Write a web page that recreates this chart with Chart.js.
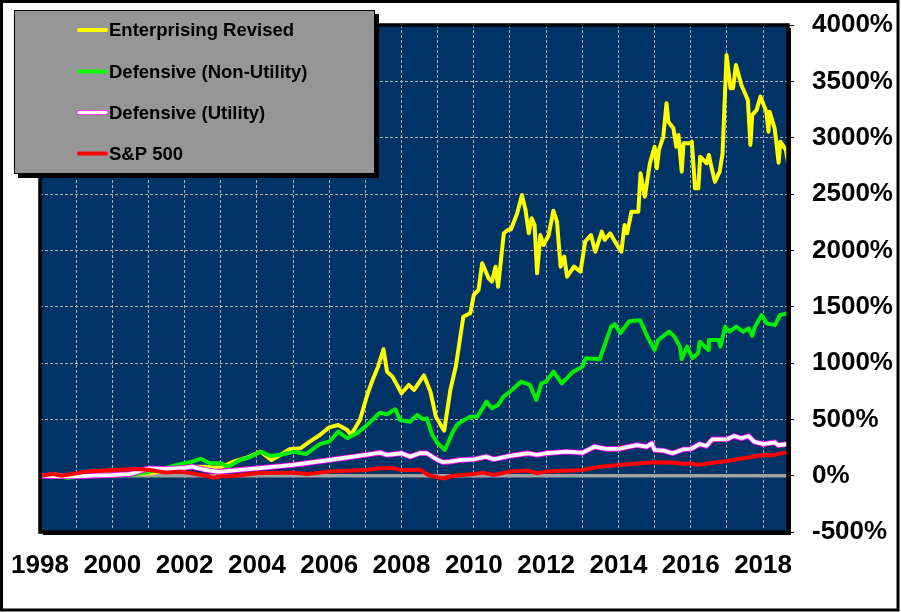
<!DOCTYPE html>
<html>
<head>
<meta charset="utf-8">
<script src="https://cdn.jsdelivr.net/npm/chart.js@4/dist/chart.umd.min.js"></script>
<style>
html,body{margin:0;padding:0;background:#fff;}
canvas{display:block;}
</style>
</head>
<body>
<canvas id="c" width="901" height="612"></canvas>
<script>
// ---- Data (cumulative return, %) ----
const seriesLabels = ['Enterprising Revised', 'Defensive (Non-Utility)', 'Defensive (Utility)', 'S&P 500'];

const enterprisingX = [1998.0,1998.4,1998.7,1999.0,1999.5,2000.0,2000.5,2001.0,2001.4,2001.8,2002.2,2002.57,2002.8,2003.0,2003.35,2003.8,2004.1,2004.4,2004.65,2004.9,2005.2,2005.46,2005.74,2006.0,2006.25,2006.5,2006.6,2006.85,2007.05,2007.2,2007.35,2007.5,2007.6,2007.75,2008.0,2008.2,2008.35,2008.5,2008.62,2008.8,2008.95,2009.1,2009.18,2009.35,2009.5,2009.71,2009.9,2010.0,2010.13,2010.23,2010.41,2010.5,2010.6,2010.67,2010.83,2010.94,2011.03,2011.2,2011.33,2011.43,2011.52,2011.6,2011.68,2011.75,2011.84,2011.93,2012.07,2012.2,2012.3,2012.4,2012.5,2012.58,2012.77,2012.95,2013.08,2013.24,2013.36,2013.54,2013.62,2013.77,2013.9,2014.08,2014.17,2014.24,2014.36,2014.55,2014.61,2014.73,2014.87,2015.0,2015.06,2015.12,2015.24,2015.33,2015.38,2015.52,2015.6,2015.66,2015.75,2015.8,2015.98,2016.03,2016.12,2016.21,2016.26,2016.44,2016.5,2016.58,2016.67,2016.8,2016.88,2016.99,2017.1,2017.17,2017.25,2017.4,2017.58,2017.65,2017.7,2017.82,2017.93,2018.09,2018.15,2018.18,2018.32,2018.36,2018.43,2018.48,2018.63,2018.69];
const enterprisingY = [0,12,-5,0,5,10,15,20,40,60,80,80,70,75,124,169,213,139,184,234,243,302,361,429,450,405,361,494,716,849,967,1122,923,879,731,805,761,834,890,745,524,440,400,761,967,1411,1441,1604,1648,1885,1752,1722,1855,1677,2151,2181,2187,2329,2491,2358,2151,2284,2225,1796,2136,2047,2136,2352,2254,1855,1944,1766,1855,1811,2077,2136,1988,2166,2092,2151,2080,1988,2225,2151,2343,2343,2684,2476,2773,2920,2728,2891,3008,3305,3142,3083,2920,3024,2698,2950,2950,2964,2550,2550,2831,2773,2846,2728,2609,2698,2861,3734,3438,3438,3644,3467,3334,2935,3201,3245,3364,3231,3053,3231,3083,2979,2778,2964,2891,2787];

const defNonUtilX = [1998.0,1998.4,1998.75,1999.0,1999.3,2000.0,2000.6,2001.04,2001.4,2001.78,2002.2,2002.45,2002.7,2003.0,2003.2,2003.54,2003.8,2004.1,2004.37,2004.74,2005.0,2005.37,2005.74,2006.0,2006.25,2006.5,2006.76,2007.0,2007.4,2007.6,2007.83,2007.96,2008.24,2008.43,2008.6,2008.7,2008.85,2009.0,2009.2,2009.4,2009.53,2009.65,2009.9,2010.1,2010.35,2010.5,2010.67,2010.82,2011.0,2011.3,2011.55,2011.73,2011.87,2012.0,2012.2,2012.43,2012.75,2013.0,2013.1,2013.48,2013.8,2013.9,2014.05,2014.3,2014.6,2014.8,2015.0,2015.1,2015.4,2015.55,2015.7,2015.75,2015.9,2016.05,2016.2,2016.25,2016.48,2016.5,2016.78,2016.82,2016.95,2017.07,2017.26,2017.45,2017.6,2017.7,2017.78,2017.96,2018.1,2018.33,2018.47,2018.69];
const defNonUtilY = [0,5,-20,-10,5,15,10,36,60,95,124,150,110,110,80,139,163,213,175,190,213,193,281,302,391,332,376,435,559,545,589,494,479,539,500,509,361,287,228,376,450,479,524,524,657,598,627,701,745,834,805,672,820,834,923,820,923,967,1042,1033,1323,1346,1264,1370,1380,1234,1116,1204,1278,1234,1145,1033,1145,1042,1086,1189,1116,1204,1204,1145,1323,1278,1323,1278,1308,1240,1323,1426,1352,1337,1426,1441];

const defUtilX = [1998.0,1998.5,1999.0,1999.5,2000.0,2000.5,2000.9,2001.04,2001.5,2002.0,2002.2,2002.57,2002.9,2003.0,2004.0,2005.0,2006.0,2007.0,2007.4,2007.6,2008.0,2008.24,2008.5,2008.7,2009.0,2009.15,2009.34,2009.6,2010.0,2010.34,2010.54,2011.0,2011.5,2011.75,2012.0,2012.57,2013.0,2013.34,2013.66,2014.0,2014.5,2014.78,2014.92,2015.0,2015.25,2015.5,2015.8,2016.0,2016.25,2016.43,2016.6,2017.0,2017.2,2017.4,2017.6,2017.75,2018.0,2018.33,2018.42,2018.69];
const defUtilY = [0,-5,-5,0,5,15,55,65,60,70,80,51,36,36,65,95,139,184,204,184,199,169,199,199,139,120,124,139,145,169,145,175,199,184,199,213,204,257,237,237,272,257,287,228,222,199,234,237,281,263,323,323,352,332,352,302,281,296,270,281];

const sp500X = [1998.0,1998.37,1998.6,1999.3,2000.03,2000.67,2001.04,2001.5,2001.9,2002.2,2002.6,2002.8,2003.0,2003.35,2004.0,2005.0,2005.4,2006.0,2007.0,2007.4,2007.8,2008.0,2008.35,2008.5,2008.75,2009.0,2009.15,2009.4,2009.6,2010.0,2010.26,2010.54,2011.0,2011.5,2011.75,2012.0,2013.0,2013.5,2014.0,2015.0,2015.6,2015.8,2016.0,2016.15,2017.0,2018.0,2018.2,2018.69];
const sp500Y = [0,15,0,36,50,60,50,27,36,21,0,-20,-5,-3,21,27,15,36,50,65,65,50,50,55,6,-15,-25,-3,3,15,27,6,36,45,21,36,50,80,95,119,115,104,110,95,130,184,178,208];

const yTicks = [-500,0,500,1000,1500,2000,2500,3000,3500,4000];
const xLabelYears = [1998,2000,2002,2004,2006,2008,2010,2012,2014,2016,2018];

function pts(xs, ys){ return xs.map((x,i)=>({x:x, y:ys[i]})); }

const FONT = '"Liberation Sans", Arial, sans-serif';

const decor = {
  id: 'decor',
  beforeDraw(chart){
    const {ctx, chartArea:a} = chart;
    ctx.save();
    ctx.fillStyle = '#ffffff';
    ctx.fillRect(0,0,chart.width,chart.height);
    ctx.fillStyle = '#000';
    ctx.fillRect(a.left+3, a.top+3, a.right-a.left, a.bottom-a.top);
    ctx.fillStyle = '#003366';
    ctx.fillRect(a.left, a.top, a.right-a.left, a.bottom-a.top);
    ctx.restore();
  },
  beforeDatasetsDraw(chart){
    const {ctx, chartArea:a, scales} = chart;
    const y0 = scales.y.getPixelForValue(0);
    ctx.save();
    ctx.strokeStyle = '#a0a0a0';
    ctx.lineWidth = 3.5;
    ctx.beginPath(); ctx.moveTo(a.left, y0); ctx.lineTo(a.right, y0); ctx.stroke();
    ctx.restore();
  },
  afterDatasetsDraw(chart){
    const {ctx, chartArea:a} = chart;
    ctx.save();
    ctx.strokeStyle = '#000';
    ctx.lineWidth = 3.5;
    ctx.strokeRect(a.left, a.top, a.right-a.left, a.bottom-a.top);
    // legend box
    ctx.fillStyle = '#000';
    ctx.fillRect(18, 14, 361, 164);
    ctx.fillStyle = '#969696';
    ctx.fillRect(14, 10, 361, 164);
    ctx.lineWidth = 1;
    ctx.strokeRect(14.5, 10.5, 360, 163);
    const rows = [30, 71.5, 112.5, 153.5];
    const cols = ['#ffff00', '#00ff00', '#ffffff', '#ff0000'];
    ctx.lineCap = 'round';
    rows.forEach((y,i)=>{
      if (i === 2){
        ctx.strokeStyle = '#ff00ff'; ctx.lineWidth = 5;
        ctx.beginPath(); ctx.moveTo(79, y); ctx.lineTo(106, y); ctx.stroke();
        ctx.strokeStyle = '#ffffff'; ctx.lineWidth = 3.5;
      } else {
        ctx.strokeStyle = cols[i]; ctx.lineWidth = 4;
      }
      ctx.beginPath(); ctx.moveTo(79, y); ctx.lineTo(106, y); ctx.stroke();
      ctx.fillStyle = '#000';
      ctx.font = 'bold 18.5px ' + FONT;
      ctx.textBaseline = 'middle';
      ctx.textAlign = 'left';
      ctx.fillText(seriesLabels[i], 109, y+1);
    });
    // outer frame
    ctx.strokeStyle = '#000';
    ctx.lineWidth = 3;
    ctx.strokeRect(1.5, 1.5, 896.5, 608.5);
    ctx.restore();
  }
};

const lineBase = {pointRadius:0, tension:0, fill:false, borderJoinStyle:'round', borderCapStyle:'round'};

new Chart(document.getElementById('c'), {
  type: 'line',
  data: {
    datasets: [
      Object.assign({label: seriesLabels[0], data: pts(enterprisingX, enterprisingY), borderColor:'#ffff00', borderWidth:4, order:5}, lineBase),
      Object.assign({label: seriesLabels[1], data: pts(defNonUtilX, defNonUtilY), borderColor:'#00ee00', borderWidth:4, order:4}, lineBase),
      Object.assign({label: seriesLabels[2] + ' outline', data: pts(defUtilX, defUtilY), borderColor:'#ff00ff', borderWidth:5.5, order:3}, lineBase),
      Object.assign({label: seriesLabels[2], data: pts(defUtilX, defUtilY), borderColor:'#ffffff', borderWidth:3.8, order:2}, lineBase),
      Object.assign({label: seriesLabels[3], data: pts(sp500X, sp500Y), borderColor:'#ff0000', borderWidth:4, order:1}, lineBase)
    ]
  },
  options: {
    responsive: false,
    animation: false,
    events: [],
    layout: {padding: {left:40, top:25, right:3, bottom:5}},
    plugins: {legend:{display:false}, tooltip:{enabled:false}, title:{display:false}},
    scales: {
      x: {
        type: 'linear',
        min: 1998, max: 2018.69,
        afterFit(s){ s.height = 75; s.paddingLeft = 0; s.paddingRight = 0; },
        border: {display:false, dash:[3,2]},
        grid: {color:'#b0b0b0', lineWidth:1, drawTicks:false},
        ticks: {
          stepSize: 1, includeBounds: false, autoSkip: false, maxRotation: 0,
          padding: 18, color:'#000',
          font: {family: FONT, size: 26, weight: 'bold'},
          callback: v => xLabelYears.includes(v) ? String(v) : ''
        }
      },
      y: {
        position: 'right',
        min: -500, max: 4000,
        afterFit(s){ s.width = 110; s.paddingTop = 0; s.paddingBottom = 0; },
        afterBuildTicks(s){ s.ticks = yTicks.map(v=>({value:v})); },
        border: {display:false, dash:[3,2]},
        grid: {color:'#b0b0b0', lineWidth:1, tickLength:6, tickColor:'#000', tickWidth:1, tickBorderDash:[]},
        ticks: {
          padding: 18, color:'#000',
          font: {family: FONT, size: 26, weight: 'bold'},
          callback: v => v + '%'
        }
      }
    }
  },
  plugins: [decor]
});
</script>
</body>
</html>
